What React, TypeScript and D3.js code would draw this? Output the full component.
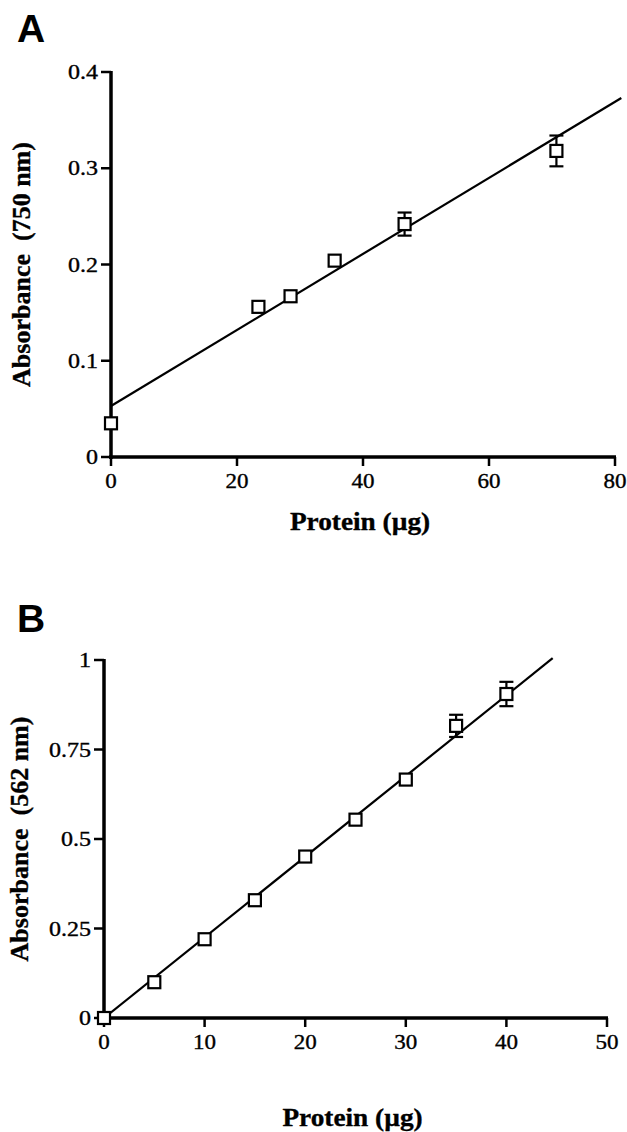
import React from "react";
import * as d3 from "d3";

// panel A: Lowry (750 nm)
const proteinA = [0, 23.4, 28.5, 35.5, 46.6, 70.7];
const absorbanceA = [0.035, 0.156, 0.167, 0.204, 0.242, 0.318];
const errorA = [0, 0, 0, 0, 0.012, 0.016];
const fitXA = [0, 81];
const fitYA = [0.053, 0.373];
const xTicksA = [0, 20, 40, 60, 80];
const yTicksA = [0, 0.1, 0.2, 0.3, 0.4];
const yLabelsA = ["0", "0.1", "0.2", "0.3", "0.4"];

// panel B: BCA (562 nm)
const proteinB = [0, 5, 10, 15, 20, 25, 30, 35, 40];
const absorbanceB = [0, 0.1, 0.22, 0.329, 0.451, 0.554, 0.666, 0.816, 0.905];
const errorB = [0, 0, 0, 0, 0, 0, 0, 0.031, 0.034];
const fitXB = [0, 44.6];
const fitYB = [0, 1.005];
const xTicksB = [0, 10, 20, 30, 40, 50];
const yTicksB = [0, 0.25, 0.5, 0.75, 1];
const yLabelsB = ["0", "0.25", "0.5", "0.75", "1"];

const serif = "'Liberation Serif', 'Times New Roman', serif";
const sans = "'Liberation Sans', Arial, sans-serif";

type PanelProps = {
  letter: string;
  letterPos: [number, number];
  xs: number[];
  ys: number[];
  errs: number[];
  fitX: number[];
  fitY: number[];
  xTicks: number[];
  yTicks: number[];
  yLabels: string[];
  xDomain: [number, number];
  yDomain: [number, number];
  xRange: [number, number];
  yRange: [number, number];
  yTitle: string;
  yTitleX: number;
  xTitleY: number;
};

// scanned type is a bit wider than Times, so stretch it sideways
function Label(props: { x: number; y: number; anchor: string; sx: number; size: number; bold?: boolean; children: React.ReactNode }) {
  return (
    <text
      transform={`translate(${props.x},${props.y}) scale(${props.sx},1)`}
      textAnchor={props.anchor}
      fontFamily={serif}
      fontSize={props.size}
      fontWeight={props.bold ? "bold" : "normal"}
      stroke="#000"
      strokeWidth={0.35}
    >
      {props.children}
    </text>
  );
}

function Panel(p: PanelProps) {
  const x = d3.scaleLinear().domain(p.xDomain).range(p.xRange);
  const y = d3.scaleLinear().domain(p.yDomain).range(p.yRange);
  const x0 = x(0);
  const y0 = y(0);
  const fit = d3.line<number>()
    .x((d) => x(d))
    .y((_, i) => y(p.fitY[i]));
  const sq = 12;
  const cap = 7;

  return (
    <g>
      <text x={p.letterPos[0]} y={p.letterPos[1]} fontFamily={sans} fontWeight="bold" fontSize={39}>
        {p.letter}
      </text>

      {/* axes */}
      <line x1={x0} x2={x0} y1={y(p.yDomain[1]) - 1} y2={y0 + 2} stroke="#000" strokeWidth={3.5} />
      <line x1={x0 - 2} x2={x(p.xDomain[1]) + 1} y1={y0} y2={y0} stroke="#000" strokeWidth={3.5} />

      {p.yTicks.map((t, i) => (
        <g key={"y" + i}>
          <line x1={x0 - 10} x2={x0} y1={y(t)} y2={y(t)} stroke="#000" strokeWidth={2.5} />
          <Label x={x0 - 13} y={y(t) + 7} anchor="end" sx={1.2} size={20}>
            {p.yLabels[i]}
          </Label>
        </g>
      ))}
      {p.xTicks.map((t, i) => (
        <g key={"x" + i}>
          <line x1={x(t)} x2={x(t)} y1={y0} y2={y0 + 9} stroke="#000" strokeWidth={2.5} />
          <Label x={x(t)} y={y0 + 31} anchor="middle" sx={1.15} size={20}>
            {t}
          </Label>
        </g>
      ))}

      <Label x={(p.xRange[0] + p.xRange[1]) / 2 - 3} y={p.xTitleY} anchor="middle" sx={1.05} size={26} bold>
        Protein (µg)
      </Label>
      <text
        transform={`translate(${p.yTitleX},${(p.yRange[0] + p.yRange[1]) / 2}) rotate(-90)`}
        textAnchor="middle"
        fontFamily={serif}
        fontWeight="bold"
        fontSize={26}
        stroke="#000"
        strokeWidth={0.35}
        style={{ whiteSpace: "pre" }}
      >
        {p.yTitle}
      </text>

      <path d={fit(p.fitX) ?? ""} fill="none" stroke="#000" strokeWidth={2.2} />

      {p.xs.map((v, i) => {
        const cx = x(v);
        const cy = y(p.ys[i]);
        const e = p.errs[i];
        return (
          <g key={"p" + i}>
            {e > 0 && (
              <g stroke="#000" strokeWidth={2.2}>
                <line x1={cx} x2={cx} y1={y(p.ys[i] + e)} y2={y(p.ys[i] - e)} />
                <line x1={cx - cap} x2={cx + cap} y1={y(p.ys[i] + e)} y2={y(p.ys[i] + e)} />
                <line x1={cx - cap} x2={cx + cap} y1={y(p.ys[i] - e)} y2={y(p.ys[i] - e)} />
              </g>
            )}
            <rect x={cx - sq / 2} y={cy - sq / 2} width={sq} height={sq} fill="#fff" stroke="#000" strokeWidth={2.2} />
          </g>
        );
      })}
    </g>
  );
}

export default function App() {
  return (
    <svg
      width={627}
      height={1132}
      style={{ position: "absolute", left: 0, top: 0, background: "#fff" }}
    >
      <rect width={627} height={1132} fill="#fff" />
      <Panel
        letter="A"
        letterPos={[17, 42]}
        xs={proteinA}
        ys={absorbanceA}
        errs={errorA}
        fitX={fitXA}
        fitY={fitYA}
        xTicks={xTicksA}
        yTicks={yTicksA}
        yLabels={yLabelsA}
        xDomain={[0, 80]}
        yDomain={[0, 0.4]}
        xRange={[111, 615]}
        yRange={[457, 72]}
        yTitle={"Absorbance  (750 nm)"}
        yTitleX={30}
        xTitleY={530}
      />
      <Panel
        letter="B"
        letterPos={[17, 632]}
        xs={proteinB}
        ys={absorbanceB}
        errs={errorB}
        fitX={fitXB}
        fitY={fitYB}
        xTicks={xTicksB}
        yTicks={yTicksB}
        yLabels={yLabelsB}
        xDomain={[0, 50]}
        yDomain={[0, 1]}
        xRange={[104, 607]}
        yRange={[1018, 660]}
        yTitle={"Absorbance  (562 nm)"}
        yTitleX={28}
        xTitleY={1126}
      />
    </svg>
  );
}
